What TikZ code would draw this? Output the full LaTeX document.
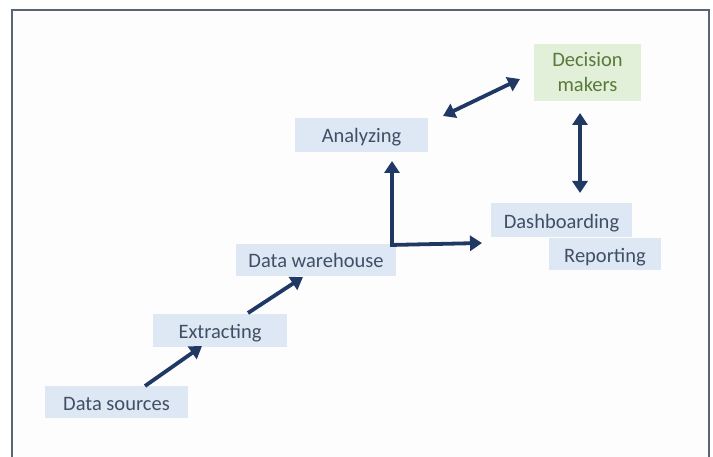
\documentclass[tikz,border=0pt]{standalone}
\usepackage{fontspec}
\setmainfont{Carlito}
\usetikzlibrary{arrows.meta}
\definecolor{framecol}{HTML}{5A6472}
\definecolor{bgcol}{HTML}{FDFDFE}
\definecolor{boxfill}{HTML}{DEE8F4}
\definecolor{boxtext}{HTML}{3F4F66}
\definecolor{greenfill}{HTML}{E2EFD9}
\definecolor{greentext}{HTML}{587A3A}
\definecolor{arrowcol}{HTML}{1F3864}
\tikzset{
  stagebox/.style={rectangle, fill=boxfill, text=boxtext, inner sep=0pt, text height=18pt, text depth=2pt, font=\fontsize{20.5}{23}\selectfont},
  decisionbox/.style={rectangle, fill=greenfill, text=greentext, inner sep=0pt, align=center, font=\fontsize{20.5}{25}\selectfont},
  flow/.style={draw=arrowcol, line width=3.8pt, -{Triangle[width=15pt,length=12pt]}},
  flowboth/.style={draw=arrowcol, line width=3.8pt, {Triangle[width=15pt,length=12pt]}-{Triangle[width=15pt,length=12pt]}},
}
\begin{document}
\begin{tikzpicture}[x=1pt,y=-1pt]
\useasboundingbox (0,0) rectangle (713,457);
\clip (0,0) rectangle (713,457);
\fill[white] (0,0) rectangle (713,457);
\draw[framecol, line width=1.3pt, fill=bgcol] (12,10) rectangle (709,480);

\node[stagebox, minimum width=143pt, minimum height=32pt] (ds) at (116.5,402) {Data sources};
\node[stagebox, minimum width=134pt, minimum height=33pt] (ex) at (220,330.5) {Extracting};
\node[stagebox, minimum width=160pt, minimum height=32pt] (dw) at (316,260) {Data warehouse};
\node[stagebox, minimum width=133pt, minimum height=34pt] (an) at (361.5,135) {Analyzing};
\node[decisionbox, minimum width=107pt, minimum height=57pt] (dm) at (587.5,72.5) {Decision\\makers};
\node[stagebox, minimum width=112pt, minimum height=32pt] (rp) at (605,254.5) {};
\node[stagebox, minimum width=141pt, minimum height=34pt] (db) at (561.5,220.5) {Dashboarding};
\node[text=boxtext, font=\fontsize{20.5}{23}\selectfont, inner sep=0pt, text height=18pt, text depth=2pt] (rpt) at (rp.center) {Reporting};

\coordinate (a1s) at (145,386);
\coordinate (a1e) at (202,346);
\coordinate (a2s) at (248,313);
\coordinate (a2e) at (303,277);
\coordinate (corner) at (392,245);
\coordinate (upend) at (392,161);
\coordinate (rightend) at (482,243);
\coordinate (a4s) at (443,116);
\coordinate (a4e) at (520,79);
\coordinate (a5s) at (580,113);
\coordinate (a5e) at (580,193);

\draw[flow] (a1s) -- (a1e);
\draw[flow] (a2s) -- (a2e);
\draw[flow] (corner) -- (upend);
\draw[flow] ([xshift=-1.9pt]corner) -- (rightend);
\draw[flowboth] (a4s) -- (a4e);
\draw[flowboth] (a5s) -- (a5e);
\end{tikzpicture}
\end{document}
